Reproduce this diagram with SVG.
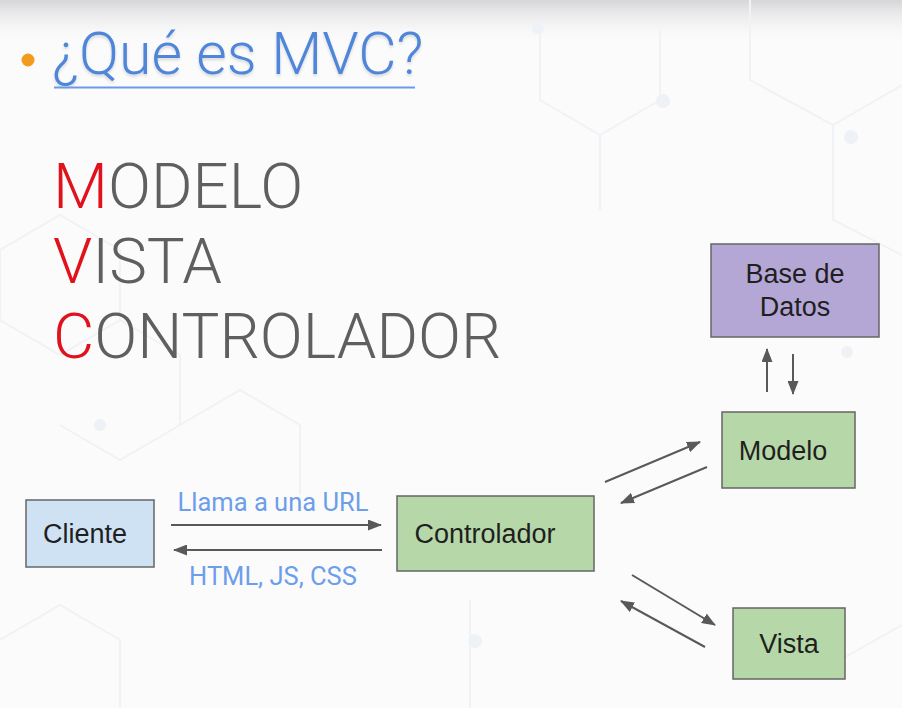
<svg xmlns="http://www.w3.org/2000/svg" width="902" height="708" viewBox="0 0 902 708">
  <defs>
    <linearGradient id="topShade" x1="0" y1="0" x2="0" y2="1">
      <stop offset="0" stop-color="#d6d6d8"/>
      <stop offset="1" stop-color="#fbfbfc" stop-opacity="0"/>
    </linearGradient>
    <marker id="head" viewBox="0 0 14 11" refX="13" refY="5.5" markerWidth="14" markerHeight="11" markerUnits="userSpaceOnUse" orient="auto">
      <path d="M0,0 L14,5.5 L0,11 z" fill="#595959"/>
    </marker>
    <filter id="soft" x="-5%" y="-20%" width="110%" height="140%">
      <feGaussianBlur in="SourceAlpha" stdDeviation="1.5"/>
      <feOffset dx="0" dy="2" result="b"/>
      <feComponentTransfer><feFuncA type="linear" slope="0.15"/></feComponentTransfer>
      <feMerge><feMergeNode/><feMergeNode in="SourceGraphic"/></feMerge>
    </filter>
  </defs>
  <style>
    .title { font-family: Roboto, "Liberation Sans", sans-serif; font-weight: 300; fill: #4f86d9; }
    .big { font-family: Roboto, "Liberation Sans", sans-serif; font-weight: 300; font-size: 63.5px; fill: #5f5f5f; }
    .red { fill: #e0121c; }
    .box { stroke: #666666; stroke-width: 1.5; }
    .lbl { font-family: "Liberation Sans", Arial, sans-serif; font-size: 27px; fill: #1f1f1f; text-anchor: middle; }
    .edge-lbl { font-family: Roboto, "Liberation Sans", sans-serif; font-size: 25.5px; fill: #6d9eeb; text-anchor: middle; }
    .arrow { stroke: #595959; stroke-width: 2; fill: none; marker-end: url(#head); }
    .hex { stroke: #f1f2f5; stroke-width: 2; fill: none; }
    .dot { fill: #eef1f6; }
  </style>

  <!-- background -->
  <rect x="0" y="0" width="902" height="708" fill="#fbfbfc"/>
  <rect x="0" y="0" width="902" height="45" fill="url(#topShade)"/>
  <g id="backdrop">
    <path class="hex" d="M0,250 L60,215 L120,250 L120,320 L60,355 L0,320 Z"/>
    <path class="hex" d="M120,320 L180,355 L180,425 L120,460 L60,425"/>
    <path class="hex" d="M180,425 L240,390 L300,425 L300,495"/>
    <path class="hex" d="M540,30 L540,100 L600,135 L660,100 L660,30"/>
    <path class="hex" d="M750,0 L750,80 L833,125 L902,85"/>
    <path class="hex" d="M833,125 L833,220 L902,255"/>
    <path class="hex" d="M600,135 L600,210"/>
    <path class="hex" d="M0,640 L60,605 L120,640 L120,708"/>
    <path class="hex" d="M470,600 L470,708"/>
    <path class="hex" d="M840,660 L902,625"/>
    <circle class="dot" cx="475" cy="641" r="7"/>
    <circle class="dot" cx="851" cy="137" r="7"/>
    <circle class="dot" cx="847" cy="352" r="6"/>
    <circle class="dot" cx="663" cy="101" r="7"/>
    <circle class="dot" cx="538" cy="28" r="6"/>
    <circle class="dot" cx="100" cy="425" r="6"/>
  </g>

  <!-- heading -->
  <g id="heading">
    <circle cx="28" cy="60" r="6.5" fill="#f29b1d"/>
    <text class="title" x="52" y="74" font-size="59" filter="url(#soft)">¿Qué es MVC?</text>
    <line x1="54" y1="87.5" x2="415" y2="87.5" stroke="#6d9be3" stroke-width="2"/>
  </g>

  <!-- acronym -->
  <g id="acronym">
    <text class="big" x="53" y="208"><tspan class="red">M</tspan>ODELO</text>
    <text class="big" x="53" y="283"><tspan class="red">V</tspan>ISTA</text>
    <text class="big" x="53" y="358"><tspan class="red">C</tspan>ONTROLADOR</text>
  </g>

  <!-- nodes -->
  <g id="cliente">
    <rect class="box" x="26" y="500" width="128" height="67" fill="#cfe2f3"/>
    <text class="lbl" x="85" y="543">Cliente</text>
  </g>
  <g id="controlador">
    <rect class="box" x="397" y="496" width="197" height="75" fill="#b6d7a8"/>
    <text class="lbl" x="485" y="543">Controlador</text>
  </g>
  <g id="modelo">
    <rect class="box" x="722" y="412" width="133" height="76" fill="#b6d7a8"/>
    <text class="lbl" x="783" y="460">Modelo</text>
  </g>
  <g id="vista">
    <rect class="box" x="733" y="608" width="112" height="71" fill="#b6d7a8"/>
    <text class="lbl" x="789" y="653">Vista</text>
  </g>
  <g id="base-de-datos">
    <rect class="box" x="711" y="244" width="168" height="93" fill="#b4a7d6"/>
    <text class="lbl" x="795" y="283">Base de</text>
    <text class="lbl" x="795" y="316">Datos</text>
  </g>

  <!-- connectors -->
  <g id="connectors">
    <line class="arrow" x1="171" y1="525" x2="381" y2="525"/>
    <line class="arrow" x1="382" y1="550" x2="174" y2="550"/>
    <text class="edge-lbl" x="273" y="511">Llama a una URL</text>
    <text class="edge-lbl" x="273" y="585">HTML, JS, CSS</text>

    <line class="arrow" x1="605" y1="482" x2="700" y2="442"/>
    <line class="arrow" x1="707" y1="467" x2="621" y2="503"/>
    <line class="arrow" x1="632" y1="575" x2="715" y2="625"/>
    <line class="arrow" x1="705" y1="647" x2="621" y2="601"/>

    <line class="arrow" x1="767" y1="392" x2="767" y2="349"/>
    <line class="arrow" x1="793" y1="354" x2="793" y2="394"/>
  </g>
</svg>
